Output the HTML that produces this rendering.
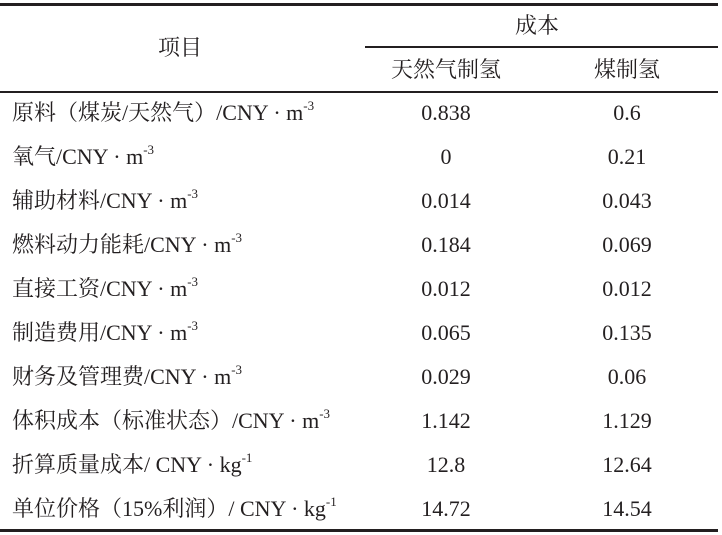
<!DOCTYPE html>
<html><head><meta charset="utf-8"><style>
body{margin:0;width:722px;height:535px;background:#fff;position:relative;overflow:hidden;font-family:"Liberation Serif","Noto Serif CJK SC",serif;color:#231f20;font-size:22px}
.l{position:absolute;background:#231f20}
.t,.c{font-family:"Liberation Serif","Noto Serif CJK SC",serif}
.t{position:absolute;white-space:nowrap;line-height:26px}
.c{position:absolute;width:160px;text-align:center;line-height:26px}
sup{font-size:13px;vertical-align:10px;line-height:0}
</style></head><body>
<div class="l" style="left:0;top:3px;width:718px;height:3px"></div>
<div class="l" style="left:365px;top:46px;width:353px;height:1.5px"></div>
<div class="l" style="left:0;top:91px;width:718px;height:1.5px"></div>
<div class="l" style="left:0;top:529px;width:718px;height:3px"></div>
<div class="t" style="left:158px;top:35px">项目</div>
<div class="c" style="left:457px;top:13px">成本</div>
<div class="c" style="left:366px;top:57px">天然气制氢</div>
<div class="c" style="left:547px;top:57px">煤制氢</div>

<div class="t" style="left:12px;top:100px">原料（煤炭/天然气）/CNY · m<sup>-3</sup></div>
<div class="c" style="left:366px;top:100px">0.838</div><div class="c" style="left:547px;top:100px">0.6</div>
<div class="t" style="left:12px;top:144px">氧气/CNY · m<sup>-3</sup></div>
<div class="c" style="left:366px;top:144px">0</div><div class="c" style="left:547px;top:144px">0.21</div>
<div class="t" style="left:12px;top:188px">辅助材料/CNY · m<sup>-3</sup></div>
<div class="c" style="left:366px;top:188px">0.014</div><div class="c" style="left:547px;top:188px">0.043</div>
<div class="t" style="left:12px;top:232px">燃料动力能耗/CNY · m<sup>-3</sup></div>
<div class="c" style="left:366px;top:232px">0.184</div><div class="c" style="left:547px;top:232px">0.069</div>
<div class="t" style="left:12px;top:276px">直接工资/CNY · m<sup>-3</sup></div>
<div class="c" style="left:366px;top:276px">0.012</div><div class="c" style="left:547px;top:276px">0.012</div>
<div class="t" style="left:12px;top:320px">制造费用/CNY · m<sup>-3</sup></div>
<div class="c" style="left:366px;top:320px">0.065</div><div class="c" style="left:547px;top:320px">0.135</div>
<div class="t" style="left:12px;top:364px">财务及管理费/CNY · m<sup>-3</sup></div>
<div class="c" style="left:366px;top:364px">0.029</div><div class="c" style="left:547px;top:364px">0.06</div>
<div class="t" style="left:12px;top:408px">体积成本（标准状态）/CNY · m<sup>-3</sup></div>
<div class="c" style="left:366px;top:408px">1.142</div><div class="c" style="left:547px;top:408px">1.129</div>
<div class="t" style="left:12px;top:452px">折算质量成本/ CNY · kg<sup>-1</sup></div>
<div class="c" style="left:366px;top:452px">12.8</div><div class="c" style="left:547px;top:452px">12.64</div>
<div class="t" style="left:12px;top:496px">单位价格（15%利润）/ CNY · kg<sup>-1</sup></div>
<div class="c" style="left:366px;top:496px">14.72</div><div class="c" style="left:547px;top:496px">14.54</div>
</body></html>
